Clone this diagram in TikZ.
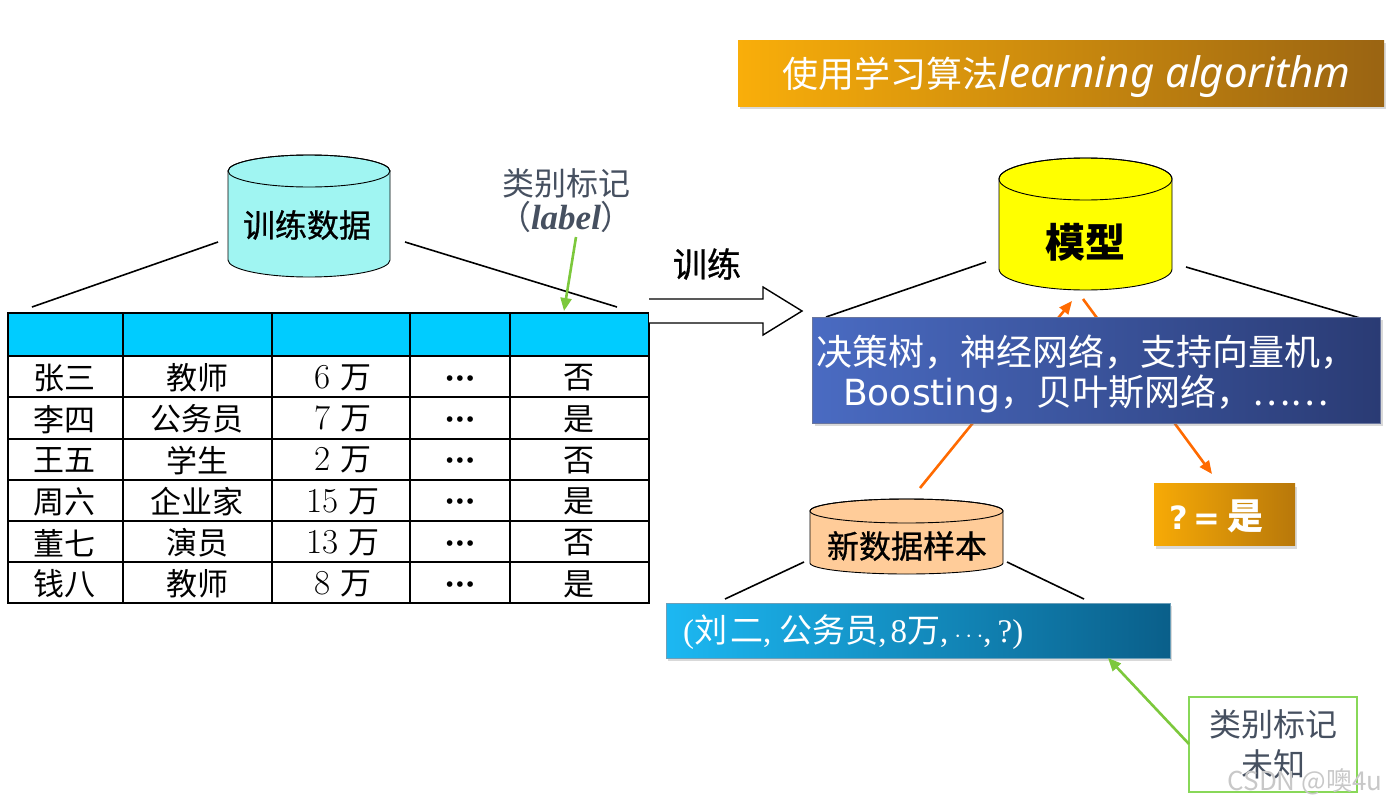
\documentclass[tikz,border=0pt]{standalone}
\usepackage{fontspec}
\setmainfont{DejaVu Sans}
\newfontfamily\cjk{Noto Sans CJK SC}
\newfontfamily\cjkm{Noto Sans CJK SC}[FakeBold=0.8]
\newfontfamily\itsans{Noto Sans}
\newfontfamily\serif{Liberation Serif}
\newfontfamily\dejavu{DejaVu Sans}
\newfontfamily\lmr{Latin Modern Roman}
\usetikzlibrary{shadows,arrows.meta}
\definecolor{cylcyan}{HTML}{A0F5F2}
\definecolor{hdrcyan}{HTML}{00CCFF}
\definecolor{cylyellow}{HTML}{FFFF00}
\definecolor{cylpeach}{HTML}{FFCC99}
\definecolor{labgray}{HTML}{465060}
\definecolor{lgreen}{HTML}{7CC83C}
\definecolor{arrorange}{HTML}{FF6A00}
\definecolor{bannerL}{HTML}{F9AE0A}
\definecolor{bannerR}{HTML}{9A6412}
\definecolor{blueL}{HTML}{4A6BC2}
\definecolor{blueR}{HTML}{2A3B74}
\definecolor{cyanL}{HTML}{1CB8F2}
\definecolor{cyanR}{HTML}{0A5F8A}
\definecolor{yesL}{HTML}{F7AA06}
\definecolor{yesR}{HTML}{B8780A}
\definecolor{gboxgreen}{HTML}{88D858}
\definecolor{wmark}{HTML}{C8C8C8}
\begin{document}
\begin{tikzpicture}[x=1pt,y=-1pt,
  fanline/.style={line width=1.6pt, black},
  cylline/.style={draw=black, line width=0.9pt},
  gridline/.style={line width=2.4pt, black},
  orgarr/.style={line width=2.6pt, arrorange, -{Triangle[length=13pt,width=11pt]}},
  grnarr/.style={line width=2.6pt, lgreen, -{Triangle[length=13pt,width=11pt]}},
  shbox/.style={draw=none, inner sep=0pt, drop shadow={shadow xshift=2pt, shadow yshift=-3pt, opacity=0.3}},
  celltext/.style={inner sep=0pt, font=\cjk\fontsize{31}{34}\selectfont},
  cyltext/.style={inner sep=0pt, font=\cjkm\fontsize{32}{36}\selectfont},
  graytext/.style={inner sep=0pt, text=labgray, font=\cjk\fontsize{32}{36}\selectfont}
]
\useasboundingbox (0,0) rectangle (1387,803);

% ---------------- banner
\node[shbox, minimum width=646pt, minimum height=66pt, left color=bannerL, right color=bannerR] (banner) at (1061,73) {};
\node[inner sep=0pt, text=white, anchor=base west] (bannertxt) at (782,87)
  {\cjk\fontsize{36}{40}\selectfont 使用学习算法\itsans\itshape\fontsize{42}{44}\selectfont learning algorithm};

% ---------------- training data cylinder
\path[cylline, fill=cylcyan] (228,171) -- (228,260) arc[start angle=180,end angle=360,x radius=81pt,y radius=17pt] -- (390,171) arc[start angle=0,end angle=180,x radius=81pt,y radius=16pt] -- cycle;
\draw[cylline] (309,171) ellipse[x radius=81pt,y radius=16pt];
\node[cyltext] (train) at (307,225) {训练数据};

\coordinate (t1) at (218,242); \coordinate (t2) at (32,307);
\coordinate (t3) at (405,242); \coordinate (t4) at (617,307);
\draw[fanline] (t1) -- (t2);
\draw[fanline] (t3) -- (t4);

% label annotation
\node[graytext] (lab1) at (566,183) {类别标记};
\node[inner sep=0pt, text=labgray, anchor=base] (lab2) at (566,229) {\cjk\fontsize{33}{36}\selectfont （\serif\itshape\bfseries\fontsize{35}{38}\selectfont label\cjk\upshape\mdseries\fontsize{33}{36}\selectfont ）};
\coordinate (la) at (576,237); \coordinate (lb) at (564,311);
\draw[grnarr] (la) -- (lb);

% ---------------- table
\fill[hdrcyan] (8,313) rectangle (649,356);
\foreach \x in {123,272,410,510} \draw[gridline] (\x,313) -- (\x,603);
\foreach \y in {356,397,439,480,521,562} \draw[gridline] (8,\y) -- (649,\y);
\draw[gridline] (8,313) rectangle (649,603);

\foreach \na/\jo/\sa/\yn [count=\i] in {张三/教师/6/否,李四/公务员/7/是,王五/学生/2/否,周六/企业家/15/是,董七/演员/13/否,钱八/教师/8/是}{
  \pgfmathsetmacro\yy{378+41.2*(\i-1)}
  \node[celltext] (name\i) at (65,\yy) {\na};
  \node[celltext] (job\i) at (197,\yy) {\jo};
  \node[celltext] (sal\i) at (343,\yy) {{\lmr\fontsize{35}{38}\selectfont\sa}\hspace{10pt}万};
  \node[inner sep=0pt, font=\dejavu\bfseries\fontsize{16}{18}\selectfont] (dot\i) at (460,\yy+2) {•••};
  \node[celltext] (cls\i) at (579,\yy) {\yn};
}

% ---------------- big hollow arrow
\draw[line width=1.4pt, fill=white] (649,299) -- (763,299) -- (763,287) -- (802,311) -- (763,335) -- (763,323) -- (649,323);
\node[inner sep=0pt, font=\cjkm\fontsize{34}{38}\selectfont] (trainlbl) at (707,264) {训练};

% ---------------- orange arrows (behind blue box)
\coordinate (oa1) at (920,488); \coordinate (oa2) at (1072,301);
\coordinate (ob1) at (1083,299); \coordinate (ob2) at (1212,474);
\draw[orgarr] (oa1) -- (oa2);
\draw[orgarr] (ob1) -- (ob2);

% ---------------- model cylinder
\path[cylline, fill=cylyellow] (999,179) -- (999,269) arc[start angle=180,end angle=360,x radius=86.5pt,y radius=21pt] -- (1172,179) arc[start angle=0,end angle=180,x radius=86.5pt,y radius=21pt] -- cycle;
\draw[cylline] (1085.5,179) ellipse[x radius=86.5pt,y radius=21pt];
\node[inner sep=0pt, font=\cjk\bfseries\fontsize{40}{44}\selectfont] (model) at (1085,242) {模型};

\coordinate (m1) at (986,262); \coordinate (m2) at (826,317);
\coordinate (m3) at (1186,267); \coordinate (m4) at (1360,318);
\draw[fanline] (m1) -- (m2);
\draw[fanline] (m3) -- (m4);

% ---------------- algorithm box
\node[shbox, draw=blueR!70, line width=1pt, minimum width=568pt, minimum height=106pt, left color=blueL, right color=blueR] (algos) at (1096.5,370) {};
\node[inner sep=0pt, text=white, align=center, font=\cjk\fontsize{36}{40}\selectfont] (algostxt) at (1086,374)
  {决策树，神经网络，支持向量机，\\ {\dejavu Boosting}，贝叶斯网络，……};

% ---------------- result box
\node[shbox, minimum width=141pt, minimum height=62pt, left color=yesL, right color=yesR] (yes) at (1224.5,514.5) {};
\node[inner sep=0pt, anchor=west, text=white] (yestxt) at (1169,516)
  {\dejavu\bfseries\fontsize{32}{36}\selectfont ?\hspace{6pt}=\hspace{7pt}\cjk\fontsize{36}{38}\selectfont 是};

% ---------------- new data cylinder
\path[cylline, fill=cylpeach] (810,511) -- (810,563) arc[start angle=180,end angle=360,x radius=96.5pt,y radius=11pt] -- (1003,511) arc[start angle=0,end angle=180,x radius=96.5pt,y radius=12pt] -- cycle;
\draw[cylline] (906.5,511) ellipse[x radius=96.5pt,y radius=12pt];
\node[inner sep=0pt, font=\cjkm\fontsize{32}{36}\selectfont] (newdata) at (907,546) {新数据样本};

\coordinate (n1) at (804,562); \coordinate (n2) at (725,599);
\coordinate (n3) at (1007,562); \coordinate (n4) at (1084,599);
\draw[fanline] (n1) -- (n2);
\draw[fanline] (n3) -- (n4);

% ---------------- sample box
\node[shbox, draw=cyanR!60, line width=0.8pt, minimum width=504pt, minimum height=55pt, left color=cyanL, right color=cyanR] (sample) at (918,630.5) {};
\node[inner sep=0pt, anchor=west, text=white, font=\serif\fontsize{33}{36}\selectfont] (sampletxt) at (683,632)
  {(\cjk 刘\hspace{3pt}二\serif,\hspace{8pt}\cjk 公务员\serif,\hspace{4pt}8\cjk 万\serif,\hspace{6pt}$\cdots$,\hspace{6pt}?)};

% ---------------- unknown label box
\node[draw=gboxgreen, line width=2pt, minimum width=168pt, minimum height=95pt, inner sep=0pt, text=labgray, align=center, font=\cjk\fontsize{32}{40}\selectfont] (unknown) at (1273,744.5) {类别标记\\未知};
\coordinate (ua) at (1189,744); \coordinate (ub) at (1108,658);
\draw[grnarr] (ua) -- (ub);

% watermark
\node[inner sep=0pt, text=wmark, font=\cjk\fontsize{26}{30}\selectfont] (wm) at (1305,782) {CSDN @噢4u};
\end{tikzpicture}
\end{document}
